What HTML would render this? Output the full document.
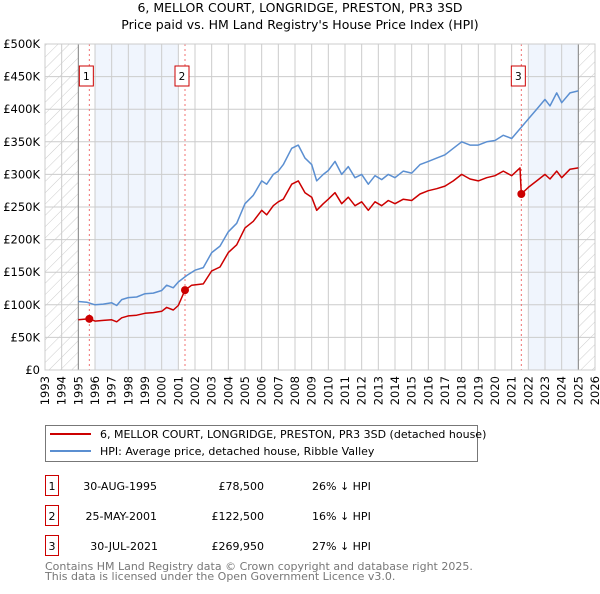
<!DOCTYPE html>
<html><head><meta charset="utf-8"><style>
body{margin:0;width:600px;height:590px;background:#fff;font-family:"DejaVu Sans","Liberation Sans",sans-serif;overflow:hidden}
text{font-family:"DejaVu Sans","Liberation Sans",sans-serif}
</style></head><body>
<svg id="chart" width="600" height="590" viewBox="0 0 600 590" xmlns="http://www.w3.org/2000/svg">
<defs><pattern id="hatch" patternUnits="userSpaceOnUse" width="8" height="8" patternTransform="rotate(45)"><line x1="0" y1="0" x2="0" y2="8" stroke="#ccc" stroke-width="1"/></pattern></defs>
<text x="300" y="12" text-anchor="middle" font-size="12.5">6, MELLOR COURT, LONGRIDGE, PRESTON, PR3 3SD</text>
<text x="300" y="29" text-anchor="middle" font-size="12.5">Price paid vs. HM Land Registry's House Price Index (HPI)</text>
<g id="plot"></g>
<g>
<rect x="45.5" y="425.5" width="432" height="36" fill="#fff" stroke="#777"/>
<line x1="50" y1="434" x2="91" y2="434" stroke="#cc0000" stroke-width="2"/>
<text x="100" y="438" font-size="11">6, MELLOR COURT, LONGRIDGE, PRESTON, PR3 3SD (detached house)</text>
<line x1="50" y1="451" x2="91" y2="451" stroke="#5b8fd1" stroke-width="2"/>
<text x="100" y="455" font-size="11">HPI: Average price, detached house, Ribble Valley</text>
</g>
<g font-size="11">
<rect x="45.5" y="475.5" width="13" height="20" fill="#fff" stroke="#cc0000"/><text x="52" y="490" text-anchor="middle">1</text>
<text x="157" y="490" text-anchor="end">30-AUG-1995</text><text x="264" y="490" text-anchor="end">£78,500</text><text x="312" y="490">26% ↓ HPI</text>
<rect x="45.5" y="505.5" width="13" height="20" fill="#fff" stroke="#cc0000"/><text x="52" y="520" text-anchor="middle">2</text>
<text x="157" y="520" text-anchor="end">25-MAY-2001</text><text x="264" y="520" text-anchor="end">£122,500</text><text x="312" y="520">16% ↓ HPI</text>
<rect x="45.5" y="535.5" width="13" height="20" fill="#fff" stroke="#cc0000"/><text x="52" y="550" text-anchor="middle">3</text>
<text x="158" y="550" text-anchor="end">30-JUL-2021</text><text x="264" y="550" text-anchor="end">£269,950</text><text x="312" y="550">27% ↓ HPI</text>
</g>
<text x="45" y="570" font-size="11" fill="#777">Contains HM Land Registry data © Crown copyright and database right 2025.</text>
<text x="45" y="580" font-size="11" fill="#777">This data is licensed under the Open Government Licence v3.0.</text>
</svg>
<script>
const hpiYears=[1995,1995.5,1996,1996.5,1997,1997.3,1997.6,1998,1998.5,1999,1999.5,2000,2000.3,2000.7,2001,2001.5,2002,2002.5,2003,2003.5,2004,2004.5,2005,2005.5,2006,2006.3,2006.7,2007,2007.3,2007.8,2008.2,2008.6,2009,2009.3,2009.7,2010,2010.4,2010.8,2011.2,2011.6,2012,2012.4,2012.8,2013.2,2013.6,2014,2014.5,2015,2015.5,2016,2016.5,2017,2017.5,2018,2018.5,2019,2019.5,2020,2020.5,2021,2021.5,2022,2022.5,2023,2023.3,2023.7,2024,2024.5,2025];
const hpiValues=[105,104,100,101,103,99,108,111,112,117,118,122,130,126,135,145,153,157,180,190,212,225,255,268,290,285,300,305,315,340,345,325,315,290,300,306,320,300,312,295,300,285,298,292,300,295,305,302,315,320,325,330,340,350,345,345,350,352,360,355,370,385,400,415,405,425,410,425,428];
const priceYears=[1995,1995.66,1996,1996.5,1997,1997.3,1997.6,1998,1998.5,1999,1999.5,2000,2000.3,2000.7,2001,2001.4,2001.8,2002.5,2003,2003.5,2004,2004.5,2005,2005.5,2006,2006.3,2006.7,2007,2007.3,2007.8,2008.2,2008.6,2009,2009.3,2009.7,2010,2010.4,2010.8,2011.2,2011.6,2012,2012.4,2012.8,2013.2,2013.6,2014,2014.5,2015,2015.5,2016,2016.5,2017,2017.5,2018,2018.5,2019,2019.5,2020,2020.5,2021,2021.5,2021.58,2022,2022.5,2023,2023.3,2023.7,2024,2024.5,2025];
const priceValues=[77,78.5,75,76,77,74,80,83,84,87,88,90,96,92,99,122.5,130,132,152,158,180,192,218,228,245,238,252,258,262,285,290,272,265,245,255,262,272,255,265,252,258,245,258,252,260,255,262,260,270,275,278,282,290,300,293,290,295,298,305,298,310,269.95,280,290,300,293,305,295,308,310];
const saleYears=[1995.66,2001.4,2021.58];
const salePrices=[78.5,122.5,269.95];
const saleLabels=["1","2","3"];
const yTicks=[0,50,100,150,200,250,300,350,400,450,500];
const yTickLabels=["£0","£50K","£100K","£150K","£200K","£250K","£300K","£350K","£400K","£450K","£500K"];
const xTicks=[1993,1994,1995,1996,1997,1998,1999,2000,2001,2002,2003,2004,2005,2006,2007,2008,2009,2010,2011,2012,2013,2014,2015,2016,2017,2018,2019,2020,2021,2022,2023,2024,2025,2026];

const L=45,R=595,T=44,B=370;
const xs=y=>L+(y-1993)*(R-L)/33;
const ys=v=>B-v*(B-T)/500;
const NS="http://www.w3.org/2000/svg";
const g=document.getElementById('plot');
function mk(tag,attrs){const e=document.createElementNS(NS,tag);for(const k in attrs)e.setAttribute(k,attrs[k]);g.appendChild(e);return e;}
let e;
e=mk('rect',{x:L,y:T,width:R-L,height:B-T,fill:'#fff'});


e=mk('rect',{x:xs(1996),y:T,width:xs(2001)-xs(1996),height:B-T,fill:'#f0f5fd'});


e=mk('rect',{x:xs(2022),y:T,width:xs(2025)-xs(2022),height:B-T,fill:'#f0f5fd'});


e=mk('rect',{x:L,y:T,width:xs(1995)-L,height:B-T,fill:'url(#hatch)'});


e=mk('rect',{x:xs(2025),y:T,width:R-xs(2025),height:B-T,fill:'url(#hatch)'});


xTicks.forEach((t,i)=>{
 e=mk('line',{x1:xs(t),x2:xs(t),y1:T,y2:B,stroke:'#ccc','stroke-width':1});
 
 
 const x=xs(t),y=376;
 e=mk('text',{x:x+4,y:y,'font-size':11.5,'text-anchor':'end',transform:`rotate(-90 ${x+4} ${y})`});
 e.textContent=t;
 
 
});
yTicks.forEach((t,i)=>{
 e=mk('line',{x1:L,x2:R,y1:ys(t),y2:ys(t),stroke:'#ccc','stroke-width':1});
 
 
 e=mk('text',{x:40,y:ys(t)+4,'font-size':11.5,'text-anchor':'end'});
 e.textContent=yTickLabels[i];
 
 
});
e=mk('line',{x1:xs(1995),x2:xs(1995),y1:T,y2:B,stroke:'#888','stroke-width':1});


e=mk('line',{x1:xs(2025),x2:xs(2025),y1:T,y2:B,stroke:'#888','stroke-width':1});


saleYears.forEach((s,i)=>{
 e=mk('line',{x1:xs(s),x2:xs(s),y1:T,y2:B,stroke:'#f07070','stroke-width':1,'stroke-dasharray':'2,3'});
 
 
});
function path(xa,va,col,name){
 const d=xa.map((x,i)=>(i?'L':'M')+xs(x).toFixed(1)+','+ys(va[i]).toFixed(1)).join('');
 e=mk('path',{d:d,fill:'none',stroke:col,'stroke-width':1.5,'stroke-linejoin':'round'});
 
 
}
path(hpiYears,hpiValues,'#5b8fd1','hpi-line');
path(priceYears,priceValues,'#cc0000','price-line');
saleYears.forEach((s,i)=>{
 e=mk('circle',{cx:xs(s),cy:ys(salePrices[i]),r:4,fill:'#cc0000'});
 
 
 const bx=xs(s)-3;
 e=mk('rect',{x:bx-7,y:66,width:14,height:20,fill:'#fff',stroke:'#cc0000'});
 
 
 e=mk('text',{x:bx,y:80,'font-size':10.5,'text-anchor':'middle'});
 e.textContent=saleLabels[i];
 
 
});
e=mk('rect',{x:L,y:T,width:R-L,height:B-T,fill:'none',stroke:'#ccc'});


</script>
</body></html>
